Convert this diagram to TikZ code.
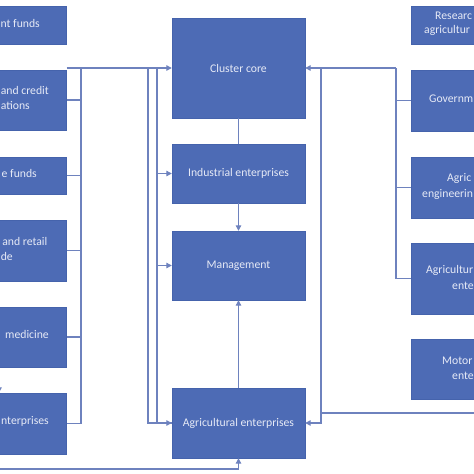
\documentclass[tikz,border=0pt]{standalone}
\usepackage{fontspec}
\setmainfont{Carlito}
\definecolor{clBox}{HTML}{4D6BB5}
\definecolor{clEdge}{HTML}{4563AC}
\definecolor{clLine}{HTML}{6E82BE}
\definecolor{clText}{HTML}{E6EAF6}
\usetikzlibrary{arrows.meta}

\begin{document}
\begin{tikzpicture}[x=1pt,y=-1pt,
  font=\fontsize{11.7}{14}\selectfont,
  unit/.style={draw=clEdge,line width=0.4pt,fill=clBox,minimum width=133pt,
               inner sep=0pt,text=clText,align=center},
  frag/.style={text=clText,inner sep=0pt},
  link/.style={draw=clLine,line width=1.1pt},
  >={Triangle[length=5.5pt,width=5.5pt]}
]
\useasboundingbox (0,0) rectangle (474,474);
\clip (0,0) rectangle (474,474);

% left column (cut by the frame)
\node[unit,minimum height=38pt] (fund) at (0,25) {};
\node[unit,minimum height=60pt] (bank) at (0,100) {};
\node[unit,minimum height=37pt] (insur) at (0,175.5) {};
\node[unit,minimum height=61pt] (trade) at (0,250.5) {};
\node[unit,minimum height=60pt] (vet) at (0,337) {};
\node[unit,minimum height=61pt] (ent) at (0,423.5) {};
\node[frag,anchor=mid east] (fundA) at (40,25) {nt funds};
\node[frag,anchor=mid east] (bankA) at (49,92) {and credit};
\node[frag,anchor=mid east] (bankB) at (30,107) {ations};
\node[frag,anchor=mid east] (insurA) at (37,175) {e funds};
\node[frag,anchor=mid east] (tradeA) at (47.5,243) {and retail};
\node[frag,anchor=mid east] (tradeB) at (13,258) {de};
\node[frag,anchor=mid east] (vetA) at (49,336) {medicine};
\node[frag,anchor=mid east] (entA) at (49,422) {nterprises};

% centre column
\node[unit,minimum height=100pt] (core) at (238.5,68) {Cluster core};
\node[unit,minimum height=59pt] (ind) at (238.5,173.5) {Industrial enterprises};
\node[unit,minimum height=69pt] (mgmt) at (238.5,265.5) {Management};
\node[unit,minimum height=70pt] (agr) at (238.5,423) {Agricultural enterprises};

% right column (cut by the frame)
\node[unit,minimum height=38pt] (res) at (477.5,25) {};
\node[unit,minimum height=61pt] (gov) at (477.5,100.5) {};
\node[unit,minimum height=61pt] (eng) at (477.5,187.5) {};
\node[unit,minimum height=71pt] (agrsec) at (477.5,278.5) {};
\node[unit,minimum height=60pt] (motor) at (477.5,369) {};
\node[frag,anchor=mid west] (resA) at (435,17) {Researc};
\node[frag,anchor=mid west] (resB) at (424,31) {agricultur};
\node[frag,anchor=mid west] (govA) at (429,100) {Governm};
\node[frag,anchor=mid west] (engA) at (447,179) {Agric};
\node[frag,anchor=mid west] (engB) at (422,195) {engineerin};
\node[frag,anchor=mid west] (agrsecA) at (426,271) {Agricultur};
\node[frag,anchor=mid west] (agrsecB) at (452,287) {ente};
\node[frag,anchor=mid west] (motorA) at (442,362) {Motor};
\node[frag,anchor=mid west] (motorB) at (452,377) {ente};

% left connectors
\coordinate (ltop) at (66.5,68);
\coordinate (lbus) at (81,68);
\coordinate (la) at (148,68);
\coordinate (lb) at (157,68);
\draw[link,->] (ltop) -- (core.west);
\draw[link] (lbus) |- (ent.east);
\foreach \n in {bank,insur,trade,vet}
  \draw[link] (\n.east) -- (\n.east -| lbus);
\draw[link,->] (la) |- (agr.west);
\draw[link] (lb) |- (agr.west);
\foreach \n in {ind,mgmt}
  \draw[link,->] (\n.west -| lb) -- (\n.west);
\coordinate (vetin) at (-1,370);
\draw[link,->] (vetin) -- (vetin |- ent.north);
\coordinate (bot) at (-5,469);
\draw[link,->] (bot) -| (agr.south);

% centre connectors
\draw[link] (core) -- (ind);
\draw[link,->] (ind) -- (mgmt);
\draw[link,->] (agr) -- (mgmt);

% right connectors
\coordinate (rbus) at (396,68);
\coordinate (ra) at (321,68);
\draw[link,->] (rbus) -- (core.east);
\draw[link] (rbus) |- (agrsec.west);
\foreach \n in {gov,eng}
  \draw[link] (\n.west) -- (\n.west -| rbus);
\draw[link,->] (ra) |- (agr.east);
\coordinate (rlow) at (480,413);
\draw[link] (rlow) -- (rlow -| ra);
\end{tikzpicture}
\end{document}
